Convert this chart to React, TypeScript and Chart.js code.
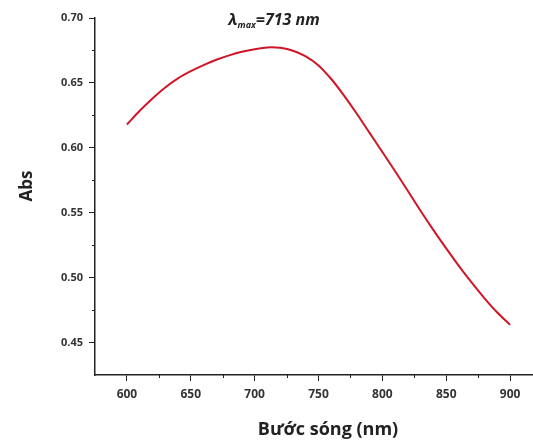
import React, { useEffect, useRef } from "react";
import { Chart, registerables } from "chart.js";

Chart.register(...registerables);

// UV-Vis absorption spectrum
const wavelengths = [
  600, 610, 620, 630, 640, 650, 660, 670, 680, 690, 700, 710, 713, 720, 730,
  740, 750, 760, 770, 780, 790, 800, 810, 820, 830, 840, 850, 860, 870, 880,
  890, 900,
];
const absorbance = [
  0.618, 0.6285, 0.638, 0.6465, 0.6535, 0.659, 0.6637, 0.6678, 0.6712,
  0.674, 0.676, 0.6773, 0.6775, 0.677, 0.6748, 0.6705, 0.6635, 0.653,
  0.6402, 0.6262, 0.6115, 0.5968, 0.582, 0.5667, 0.5513, 0.5366, 0.5225,
  0.5089, 0.4961, 0.4841, 0.4731, 0.4636,
];

const xMajorTicks = [600, 650, 700, 750, 800, 850, 900];
const xMinorTicks = [625, 675, 725, 775, 825, 875];
const yMajorTicks = [0.45, 0.5, 0.55, 0.6, 0.65, 0.7];
const yMinorTicks = [0.475, 0.525, 0.575, 0.625, 0.675];

const peakLabel = { symbol: "λ", sub: "max", rest: "=713 nm" };
const xTitle = "Bước sóng (nm)";
const yTitle = "Abs";

const FONT = "'Open Sans', Lato, sans-serif";
const INK = "#222";

const annotations = {
  id: "annotations",
  afterDraw(chart: any) {
    const { ctx, chartArea, scales } = chart;
    const xs = scales.x;
    const ys = scales.y;
    ctx.save();

    // minor ticks
    ctx.strokeStyle = INK;
    ctx.lineWidth = 1;
    ctx.beginPath();
    for (const v of xMinorTicks) {
      const px = Math.round(xs.getPixelForValue(v)) + 0.5;
      ctx.moveTo(px, chartArea.bottom);
      ctx.lineTo(px, chartArea.bottom + 3);
    }
    for (const v of yMinorTicks) {
      const py = Math.round(ys.getPixelForValue(v)) + 0.5;
      ctx.moveTo(chartArea.left, py);
      ctx.lineTo(chartArea.left - 3, py);
    }
    ctx.stroke();

    // axis titles
    ctx.fillStyle = INK;
    ctx.textAlign = "center";
    ctx.textBaseline = "alphabetic";
    ctx.font = `bold 18px ${FONT}`;
    ctx.fillText(xTitle, 328, 435);
    ctx.save();
    ctx.translate(32, 186);
    ctx.rotate(-Math.PI / 2);
    ctx.font = `bold 17px ${FONT}`;
    ctx.fillText(yTitle, 0, 0);
    ctx.restore();

    // peak annotation: λmax=713 nm
    const big = `italic bold 16px ${FONT}`;
    const small = `italic bold 9px ${FONT}`;
    ctx.textAlign = "left";
    ctx.font = big;
    const w1 = ctx.measureText(peakLabel.symbol).width;
    const w3 = ctx.measureText(peakLabel.rest).width;
    ctx.font = small;
    const w2 = ctx.measureText(peakLabel.sub).width;
    let x = 274 - (w1 + w2 + w3) / 2;
    const base = 25;
    ctx.font = big;
    ctx.fillText(peakLabel.symbol, x, base);
    x += w1;
    ctx.font = small;
    ctx.fillText(peakLabel.sub, x, base + 3);
    x += w2;
    ctx.font = big;
    ctx.fillText(peakLabel.rest, x, base);

    ctx.restore();
  },
};

export default function App() {
  const canvasRef = useRef<HTMLCanvasElement | null>(null);

  useEffect(() => {
    if (!canvasRef.current) return;
    const chart = new Chart(canvasRef.current, {
      type: "line",
      data: {
        datasets: [
          {
            data: wavelengths.map((w, i) => ({ x: w, y: absorbance[i] })),
            borderColor: "rgb(208, 22, 38)",
            borderWidth: 2,
            pointRadius: 0,
            cubicInterpolationMode: "monotone",
            fill: false,
          },
        ],
      },
      options: {
        animation: false,
        responsive: false,
        maintainAspectRatio: false,
        layout: { padding: { top: 18, right: 18, left: 0, bottom: 0 } },
        plugins: {
          legend: { display: false },
          tooltip: { enabled: false },
          title: { display: false },
        },
        scales: {
          x: {
            type: "linear",
            min: 575,
            max: 925,
            afterBuildTicks: (s: any) => {
              s.ticks = xMajorTicks.map((v) => ({ value: v }));
            },
            afterFit: (s: any) => {
              s.height = 68;
            },
            grid: {
              display: true,
              drawOnChartArea: false,
              drawTicks: true,
              tickLength: 6,
              tickColor: INK,
              tickWidth: 1,
            },
            border: { display: true, color: INK, width: 1.5 },
            ticks: {
              padding: 6,
              color: "#333",
              font: { family: FONT, size: 12, weight: "bold" },
              maxRotation: 0,
              callback: (v: any) => String(v),
            },
          },
          y: {
            type: "linear",
            min: 0.425,
            max: 0.7,
            afterBuildTicks: (s: any) => {
              s.ticks = yMajorTicks.map((v) => ({ value: v }));
            },
            afterFit: (s: any) => {
              s.width = 95;
            },
            grid: {
              display: true,
              drawOnChartArea: false,
              drawTicks: true,
              tickLength: 6,
              tickColor: INK,
              tickWidth: 1,
            },
            border: { display: true, color: INK, width: 1.5 },
            ticks: {
              padding: 6,
              color: "#333",
              font: { family: FONT, size: 11, weight: "bold" },
              callback: (v: any) => Number(v).toFixed(2),
            },
          },
        },
      },
      plugins: [annotations],
    });
    return () => chart.destroy();
  }, []);

  return (
    <div
      style={{
        position: "absolute",
        left: 0,
        top: 0,
        width: 533,
        height: 443,
        overflow: "hidden",
        background: "#fff",
      }}
    >
      <canvas ref={canvasRef} width={560} height={443} style={{ display: "block" }} />
    </div>
  );
}
